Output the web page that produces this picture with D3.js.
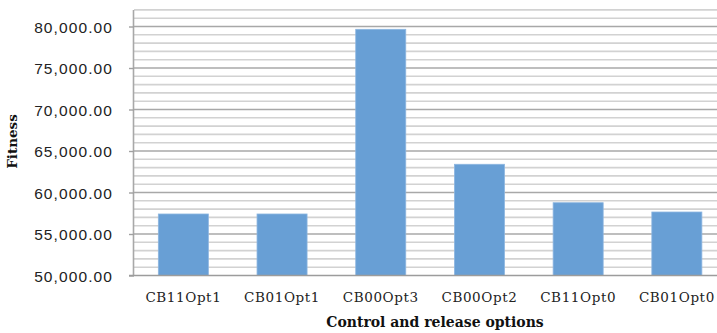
<!DOCTYPE html>
<html>
<head>
<meta charset="utf-8">
<script src="https://cdn.jsdelivr.net/npm/d3@7"></script>
<style>
  html, body { margin: 0; padding: 0; background: #fff; }
  svg { display: block; }
</style>
</head>
<body>
<svg id="chart" width="717" height="333"></svg>
<script>
// Fitness by control and release option
const categories = ["CB11Opt1", "CB01Opt1", "CB00Opt3", "CB00Opt2", "CB11Opt0", "CB01Opt0"];
const fitness = [57410, 57410, 79660, 63400, 58770, 57650];
const majorTicks = [50000, 55000, 60000, 65000, 70000, 75000, 80000];
const yTitle = "Fitness";
const xTitle = "Control and release options";

const svg = d3.select("#chart");
const plotLeft = 134, plotTop = 9.9, plotBottom = 275.5, step = 98.7;

const x = d3.scaleBand()
  .domain(categories)
  .range([plotLeft, plotLeft + step * categories.length])
  .paddingInner(0.493)
  .paddingOuter(0.2465);

const y = d3.scaleLinear()
  .domain([50000, 82000])
  .range([plotBottom, plotTop]);

// minor gridlines every 1,000
const minor = d3.range(51000, 82001, 1000).filter(v => v % 5000 !== 0);
svg.append("g").selectAll("line").data(minor).join("line")
  .attr("x1", plotLeft).attr("x2", 717)
  .attr("y1", d => y(d)).attr("y2", d => y(d))
  .attr("stroke", "#d2d2d2").attr("stroke-width", 1.6);

// major gridlines every 5,000
svg.append("g").selectAll("line").data(majorTicks.filter(v => v > 50000)).join("line")
  .attr("x1", plotLeft).attr("x2", 717)
  .attr("y1", d => y(d)).attr("y2", d => y(d))
  .attr("stroke", "#a8a8a8").attr("stroke-width", 1.6);

// bars
svg.append("g").selectAll("rect").data(categories).join("rect")
  .attr("x", d => x(d))
  .attr("width", x.bandwidth())
  .attr("y", (d, i) => y(fitness[i]))
  .attr("height", (d, i) => y(50000) - y(fitness[i]))
  .attr("fill", "#689fd5")
  .attr("stroke", "#8db6e0")
  .attr("stroke-width", 0.8);

// y axis
const yAxis = svg.append("g")
  .attr("transform", `translate(${plotLeft},0)`)
  .call(d3.axisLeft(y).tickValues(majorTicks).tickSize(5).tickPadding(16)
    .tickFormat(d3.format(",.2f")));
yAxis.select(".domain").attr("stroke", "#a8a8a8").attr("stroke-width", 1.6)
  .attr("d", `M-0.5,${plotTop}V${plotBottom}`);
yAxis.selectAll(".tick line").attr("stroke", "#a0a0a0").attr("stroke-width", 1.4);
yAxis.selectAll(".tick text")
  .attr("font-family", "'Liberation Sans', Arial, sans-serif")
  .attr("font-size", "15.5px")
  .attr("letter-spacing", "1.1px")
  .attr("fill", "#222")
  .attr("dy", "0.36em");

// x axis
const xAxis = svg.append("g")
  .attr("transform", `translate(0,${plotBottom})`)
  .call(d3.axisBottom(x).tickSize(0).tickPadding(17));
xAxis.select(".domain").attr("stroke", "#9c9c9c").attr("stroke-width", 1.6)
  .attr("d", `M${plotLeft - 5},0H717`);
xAxis.selectAll(".tick text")
  .attr("font-family", "'DejaVu Serif', serif")
  .attr("font-size", "13.5px")
  .attr("letter-spacing", "0.6px")
  .attr("fill", "#222");

// axis titles
svg.append("text")
  .attr("transform", "translate(17,141.5) rotate(-90)")
  .attr("text-anchor", "middle")
  .attr("font-family", "'DejaVu Serif', serif")
  .attr("font-weight", "bold")
  .attr("font-size", "13.5px")
  .attr("fill", "#111")
  .text(yTitle);

svg.append("text")
  .attr("x", 435).attr("y", 327)
  .attr("text-anchor", "middle")
  .attr("font-family", "'DejaVu Serif', serif")
  .attr("font-weight", "bold")
  .attr("font-size", "14px")
  .attr("fill", "#111")
  .text(xTitle);
</script>
</body>
</html>
